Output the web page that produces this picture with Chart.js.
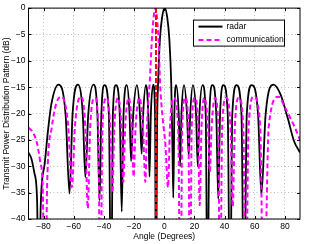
<!DOCTYPE html>
<html>
<head>
<meta charset="utf-8">
<script src="https://cdn.jsdelivr.net/npm/chart.js@4.4.0/dist/chart.umd.min.js"></script>
<style>
  html, body { margin: 0; padding: 0; background: #fff; }
</style>
</head>
<body>
<canvas id="pattern" width="311" height="244"></canvas>
<script>
// angle (deg) / level (dB)
const radarAngle = [-90, -88, -86, -84.3, -83.2, -81.9, -79.3, -77.1, -74.9, -70.2, -65.4, -62.8, -60.8, -57.2, -54.0, -52.3,
  -50.4, -46.9, -44.3, -42.9, -41.7, -39.6, -36.7, -35.2, -34.1, -32.0, -29.5, -28.2, -27.0, -24.8, -23.0, -22.0,
  -20.6, -18.1, -16.1, -15.0, -14.0, -12.2, -10.6, -9.8, -8.9, -7.3, -6.1, -5.5, -4.8, -4.05, -2.9, -1.44,
  0.3, 2.0, 3.4, 4.6, 5.3, 6.0, 6.7, 7.9, 9.6, 10.5, 11.4, 13.1, 15.1, 16.2, 17.2, 19.0,
  21.1, 22.2, 23.3, 25.4, 27.5, 28.7, 29.9, 32.0, 34.5, 35.8, 37.0, 39.3, 42.1, 43.6, 45.1, 48.0,
  51.2, 52.9, 54.7, 58.0, 62.2, 64.4, 67.2, 72.5, 77, 82, 86, 90];
const radarDb = [-27.4, -28.6, -31.4, -36.5, -60, -37.5, -29.6, -23.3, -18.3, -14.5, -20.2, -35.2, -20.2, -14.5, -20.2, -32.1,
  -20.2, -14.5, -20.2, -36.5, -20.2, -14.6, -20.2, -60, -20.2, -14.6, -20.2, -38.6, -20.2, -14.6, -20.2, -29.0,
  -20.2, -14.6, -20.2, -27.6, -20.2, -14.6, -20.2, -32.0, -20.2, -14.5, -20.2, -60, -24, -14, -6, -1.8,
  0, -1.8, -6, -14, -24, -36, -20.2, -14.6, -20.2, -30, -20.2, -14.6, -20.2, -28, -20.2, -14.6,
  -20.2, -30, -20.2, -14.6, -20.2, -60, -20.2, -14.6, -20.2, -36.2, -20.2, -14.6, -20.2, -60, -20.2, -14.6,
  -20.2, -60, -20.2, -14.6, -20.2, -35.4, -20.2, -14.5, -16.3, -21, -25.2, -27.4];

const commAngle = [-90, -87, -84.5, -82.3, -80.6, -79.0, -77.6, -74.5, -71.5, -68.2, -63.65, -61.2, -59.2, -55.5, -52.4, -50.7,
  -49.1, -46.0, -43.7, -42.4, -41.0, -38.3, -35.8, -34.4, -33.1, -30.7, -28.4, -27.2, -25.9, -23.6, -21.5, -20.3,
  -19.0, -16.5, -14.1, -12.5, -11.6, -10.8, -9.6, -8.4, -7.3, -6.0, -4.6, -3.6, -2.8, -1.0, 0.8, 2.5,
  3.8, 6.3, 9.2, 10.8, 11.9, 14.0, 16.0, 17.1, 18.2, 20.3, 22.4, 23.5, 24.7, 26.8, 29.0, 30.2,
  31.4, 33.6, 35.8, 37.0, 38.4, 41.0, 43.9, 45.4, 46.8, 49.5, 52.4, 54.0, 55.9, 59.3, 63.6, 65.9,
  69.3, 75.7, 80, 83.5, 86.5, 90];
const commDb = [-22.7, -23.6, -25.5, -29, -34, -60, -33, -22.5, -18, -16.8, -22.4, -34, -22.4, -16.8, -22.4, -38,
  -22.6, -17, -22.6, -60, -22.6, -17, -22.6, -35, -22.6, -17, -22.6, -33, -22.6, -17, -22.6, -32,
  -22.6, -17, -22.6, -33, -23.5, -19, -14, -7, -2.5, 0, -2.5, -7, -14, -21, -26, -34,
  -22.6, -17, -22.6, -60, -22.6, -17, -22.6, -60, -22.6, -17, -22.6, -37.4, -22.6, -17, -22.6, -31,
  -22.6, -17, -22.6, -60, -22.6, -17, -22.6, -37.7, -22.6, -17, -22.6, -60, -22.6, -16.8, -22.4, -60,
  -22.4, -16.8, -18.8, -20.8, -22.6, -25];

const userAngle = [-5.5, -5.5];
const userDb = [0, -40];

const xTicks = [-80, -60, -40, -20, 0, 20, 40, 60, 80];
const yTicks = [0, -5, -10, -15, -20, -25, -30, -35, -40];

function toPoints(xs, ys) {
  return xs.map(function (x, i) {
    return { x: x, y: ys[i] };
  });
}

const FONT = 'Liberation Sans, Arial, Helvetica, sans-serif';
Chart.defaults.font.family = FONT;
Chart.defaults.color = '#000';

// axis box, inward ticks and the legend box
const framePlugin = {
  id: 'frame',
  afterDraw: function (chart) {
    const ctx = chart.ctx;
    const a = chart.chartArea;
    const sx = chart.scales.x;
    const sy = chart.scales.y;
    ctx.save();
    ctx.strokeStyle = '#000';
    ctx.lineWidth = 1;
    ctx.setLineDash([]);
    ctx.beginPath();
    xTicks.forEach(function (v) {
      const px = Math.round(sx.getPixelForValue(v)) + 0.5;
      ctx.moveTo(px, a.bottom);
      ctx.lineTo(px, a.bottom - 3);
      ctx.moveTo(px, a.top);
      ctx.lineTo(px, a.top + 3);
    });
    yTicks.forEach(function (v) {
      const py = Math.round(sy.getPixelForValue(v)) + 0.5;
      ctx.moveTo(a.left, py);
      ctx.lineTo(a.left + 3, py);
      ctx.moveTo(a.right, py);
      ctx.lineTo(a.right - 3, py);
    });
    ctx.stroke();
    ctx.strokeRect(a.left, a.top, a.right - a.left, a.bottom - a.top);

    // legend
    const lx = a.right - 106.5;
    const ly = a.top + 12;
    ctx.fillStyle = '#fff';
    ctx.fillRect(lx, ly, 91, 26);
    ctx.strokeStyle = '#000';
    ctx.strokeRect(lx, ly, 91, 26);

    ctx.lineWidth = 2;
    ctx.beginPath();
    ctx.moveTo(lx + 5, ly + 6.5);
    ctx.lineTo(lx + 29, ly + 6.5);
    ctx.stroke();

    ctx.strokeStyle = '#ff00ff';
    ctx.setLineDash([5, 3]);
    ctx.beginPath();
    ctx.moveTo(lx + 5, ly + 20);
    ctx.lineTo(lx + 29, ly + 20);
    ctx.stroke();
    ctx.setLineDash([]);

    ctx.fillStyle = '#000';
    ctx.font = '8.5px ' + FONT;
    ctx.textBaseline = 'middle';
    ctx.textAlign = 'left';
    ctx.fillText('radar', lx + 33, ly + 6.5);
    ctx.fillText('communication', lx + 33, ly + 20);
    ctx.restore();
  },
};

new Chart(document.getElementById('pattern'), {
  type: 'line',
  data: {
    datasets: [
      {
        label: 'user',
        data: toPoints(userAngle, userDb),
        borderColor: '#ff0000',
        borderWidth: 2,
        borderDash: [5, 2],
        pointRadius: 0,
        order: 0,
      },
      {
        label: 'communication',
        data: toPoints(commAngle, commDb),
        borderColor: '#ff00ff',
        borderWidth: 2,
        borderDash: [5, 3],
        pointRadius: 0,
        cubicInterpolationMode: 'monotone',
        order: 1,
      },
      {
        label: 'radar',
        data: toPoints(radarAngle, radarDb),
        borderColor: '#000000',
        borderWidth: 1.8,
        pointRadius: 0,
        cubicInterpolationMode: 'monotone',
        order: 2,
      },
    ],
  },
  options: {
    responsive: false,
    animation: false,
    events: [],
    layout: {
      padding: { top: 5.5, right: 11, bottom: 0, left: 0 },
    },
    plugins: {
      legend: { display: false },
      tooltip: { enabled: false },
    },
    scales: {
      x: {
        type: 'linear',
        min: -90,
        max: 90,
        afterBuildTicks: function (scale) {
          scale.ticks = xTicks.map(function (v) {
            return { value: v };
          });
        },
        afterFit: function (scale) {
          scale.height = 25;
        },
        grid: {
          color: '#b8b8b8',
          lineWidth: 1,
          drawTicks: false,
        },
        border: { display: false, dash: [1, 2.5] },
        ticks: {
          padding: 2.5,
          maxRotation: 0,
          font: { size: 8.5 },
          callback: function (v) {
            return v < 0 ? '\u2212' + Math.abs(v) : String(v);
          },
        },
        title: {
          display: true,
          text: 'Angle (Degrees)',
          font: { size: 8.5 },
          padding: { top: 0, bottom: 2.2 },
        },
      },
      y: {
        min: -40,
        max: 0,
        afterBuildTicks: function (scale) {
          scale.ticks = yTicks.map(function (v) {
            return { value: v };
          });
        },
        afterFit: function (scale) {
          scale.width = 28.5;
        },
        grid: {
          color: '#b8b8b8',
          lineWidth: 1,
          drawTicks: false,
        },
        border: { display: false, dash: [1, 2.5] },
        ticks: {
          padding: 3,
          font: { size: 8.5 },
          callback: function (v) {
            return v < 0 ? '\u2212' + Math.abs(v) : String(v);
          },
        },
        title: {
          display: true,
          text: 'Transmit Power Distribution Pattern (dB)',
          font: { size: 8.5 },
          padding: { top: 1.5, bottom: 0 },
        },
      },
    },
  },
  plugins: [framePlugin],
});
</script>
</body>
</html>
